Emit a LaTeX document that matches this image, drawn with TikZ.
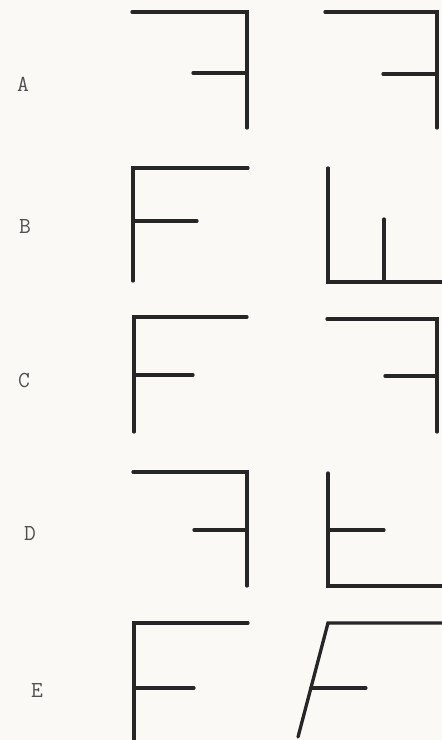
\documentclass[tikz,border=0pt]{standalone}
\usepackage{tikz}
\usetikzlibrary{positioning, calc}

\definecolor{paper}{RGB}{250,249,246}
\definecolor{ink}{RGB}{38,38,38}

\begin{document}
\begin{tikzpicture}[x=1bp, y=-1bp,
    bar/.style={ink, line width=3.3bp, line cap=round},
    tag/.style={ink!80, font=\ttfamily\fontsize{23}{26}\selectfont}]
    % Page
    \fill[paper] (0,0) rectangle (442,740);
    \useasboundingbox (0,0) rectangle (442,740);

    % Row A
    \node[tag] (labA) at (23,84) {A};
    \draw[bar] (132,12) -- (247,12) -- (247,128);
    \draw[bar] (193,73) -- (247,73);
    \draw[bar] (325,12) -- (437,12) -- (437,128);
    \draw[bar] (383,74) -- (437,74);

    % Row B
    \node[tag] (labB) at (25,226) {B};
    \draw[bar] (248,168) -- (133,168) -- (133,281);
    \draw[bar] (133,221) -- (197,221);
    \draw[bar] (328,168) -- (328,282) -- (444,282);
    \draw[bar] (384,219) -- (384,282);

    % Row C
    \node[tag] (labC) at (24,380) {C};
    \draw[bar] (247,317) -- (134,317) -- (134,432);
    \draw[bar] (134,375) -- (193,375);
    \draw[bar] (327,319) -- (437,319) -- (437,432);
    \draw[bar] (385,376) -- (437,376);

    % Row D
    \node[tag] (labD) at (30,533) {D};
    \draw[bar] (133,472) -- (247,472) -- (247,586);
    \draw[bar] (194,530) -- (247,530);
    \draw[bar] (328,473) -- (328,586) -- (444,586);
    \draw[bar] (328,530) -- (384,530);

    % Row E (right one leans over)
    \node[tag] (labE) at (37,690) {E};
    \draw[bar] (248,623) -- (134,623) -- (134,742);
    \draw[bar] (134,688) -- (194,688);
    \coordinate (eTop) at (328,623);
    \coordinate (eFoot) at (298,737);
    \draw[bar] (444,623) -- (eTop) -- (eFoot);
    \draw[bar] ($(eTop)!0.57!(eFoot)$) -- ++(55,0);

\end{tikzpicture}
\end{document}
